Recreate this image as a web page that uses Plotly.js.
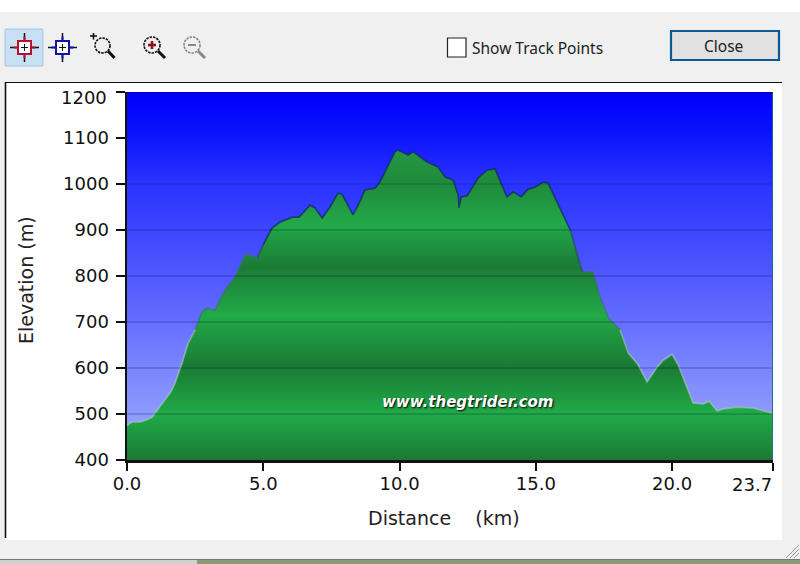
<!DOCTYPE html>
<html>
<head>
<meta charset="utf-8">
<script src="https://cdn.plot.ly/plotly-3.0.0.min.js"></script>
<style>html,body{margin:0;padding:0;background:#f0f0f0;overflow:hidden}</style>
</head>
<body>
<div id="chart" style="width:800px;height:564px"></div>
<script>
const distanceKm = [0.0,0.11,0.22,0.48,0.70,0.92,1.03,1.25,1.47,1.61,1.76,2.02,2.24,2.50,2.75,2.94,3.23,3.45,3.67,3.96,4.33,4.51,4.77,4.99,5.32,5.61,6.06,6.31,6.72,6.90,7.16,7.45,7.74,7.89,8.29,8.48,8.73,9.10,9.28,9.83,9.94,10.31,10.50,11.01,11.41,11.67,11.96,12.15,12.18,12.26,12.48,12.88,13.21,13.50,13.94,14.17,14.46,14.72,14.97,15.27,15.45,15.71,15.89,16.26,16.70,17.10,17.36,17.65,17.80,18.09,18.39,18.75,19.08,19.45,19.67,20.00,20.22,20.55,20.77,21.14,21.36,21.65,21.87,22.39,22.97,23.34,23.67];
const elevationM = [474,480,483,483,487,493,502,520,537,548,567,611,654,683,722,730,726,754,776,798,846,846,839,867,904,917,928,928,954,948,926,950,980,978,933,954,987,991,1004,1070,1074,1063,1070,1048,1037,1015,1009,976,948,972,974,1013,1030,1033,972,983,972,989,993,1004,1002,970,948,900,809,809,754,711,700,683,633,607,570,602,617,630,607,557,524,522,528,507,511,515,513,507,502];
const xTickVals = [0,5,10,15,20,23.7];
const xTickText = ['0.0','5.0','10.0','15.0','20.0',''];
const lastXLabel = '23.7';
const yTickVals = [400,500,600,700,800,900,1000,1100,1200];
const yTickText = ['400','500','600','700','800','900','1000','1100',''];
const topYLabel = '1200';
const gridVals = [500,600,700,800,900,1000];
const xMax = 23.7, yMin = 400, yMax = 1200;

const skyStops = [[0,'#0000fb'],[0.1,'#0a10fd'],[0.25,'#2a33fe'],[0.5,'#5058ff'],[0.75,'#7a85ff'],[1,'#a3aefe']];
const greenStops = [[0,'#2a9c46'],[0.14,'#1f8a3c'],[0.27,'#22a948'],[0.40,'#1b7b36'],[0.55,'#22aa48'],[0.71,'#1a7a35'],[0.855,'#21ab48'],[1,'#1b7a36']];

const L=127,R=773,T=92,B=460;
const px=v=>(v-L)/(R-L), py=v=>(B-v)/(B-T);
function rect(x0,y0,x1,y1,fill,line,lw,layer){return {type:'rect',xref:'paper',yref:'paper',x0:px(x0),x1:px(x1),y0:py(y0),y1:py(y1),fillcolor:fill,line:{color:line||'rgba(0,0,0,0)',width:lw||0},layer:layer||'below'};}
function seg(x0,y0,x1,y1,c,w,dash){return {type:'line',xref:'paper',yref:'paper',x0:px(x0),x1:px(x1),y0:py(y0),y1:py(y1),line:{color:c,width:w,dash:dash||'solid'},layer:'above'};}
function circ(cx,cy,r,c,w,dash){return {type:'circle',xref:'paper',yref:'paper',x0:px(cx-r),x1:px(cx+r),y0:py(cy-r),y1:py(cy+r),fillcolor:'rgba(0,0,0,0)',line:{color:c,width:w,dash:dash||'solid'},layer:'above'};}
function crosshair(cx,cy,c){return [
  seg(cx-14.5,cy,cx+14.5,cy,'#111',1.5),seg(cx,cy-14.5,cx,cy+14.5,'#111',1.5),
  rect(cx-6.5,cy-6.5,cx+6.5,cy+6.5,'#ffffff',c,2,'above'),
  seg(cx-3.5,cy,cx+3.5,cy,'#111',1),seg(cx,cy-3.5,cx,cy+3.5,'#111',1),
  seg(cx-11,cy,cx-6.5,cy,c,2),seg(cx+6.5,cy,cx+11,cy,c,2),seg(cx,cy-11,cx,cy-6.5,c,2),seg(cx,cy+6.5,cx,cy+11,c,2)
];}
const iconDash='2.5px,1px';
const furniture = [
  rect(0,0,800,12,'#ffffff'),
  rect(5,82,782,540,'#ffffff'),
  rect(0,559,800,564,'#cfd2cc'),
  rect(197,560,800,564,'#8b9a78'),
  seg(0,559.5,800,559.5,'#777777',1),
  seg(5.5,82,5.5,538,'#111111',1.6),
  seg(5,82.5,782,82.5,'#111111',1.2),
  rect(5,29,43,66,'#c9dff3','#a3c6e6',1,'above'),
  ...crosshair(24.5,47.5,'#b3112c'),
  ...crosshair(62.5,47.5,'#1414a0'),
  circ(102.5,45.5,7.5,'#111',1.6,iconDash),seg(108,51,114.5,58,'#111',3),
  seg(90,36,97,36,'#111',1.6),seg(93.5,33,93.5,39.5,'#111',1.6),
  circ(152,45,8,'#111',1.6,iconDash),seg(158,51,165,58,'#111',3),
  seg(148,45,156,45,'#8c0f20',2.6),seg(152,41,152,49,'#8c0f20',2.6),
  circ(192,45,8,'#888',1.6,iconDash),seg(198,51,205,58,'#888',3),seg(188,45,196,45,'#888',2),
  rect(447.5,38,466,57,'#ffffff','#222222',1.2,'above'),
  rect(671,31,779,60,'#e1e1e1','#0b5a96',2.2,'above'),
  seg(786,558,799,545,'#999',1),seg(790,558,799,549,'#999',1),seg(794,558,799,553,'#999',1)
];
const gridShapes = gridVals.map(v=>({type:'line',xref:'x',yref:'y',x0:0,x1:xMax,y0:v,y1:v,line:{color:v===1000?'rgba(0,0,50,0.2)':'rgba(0,0,50,0.33)',width:1.2},layer:'above'}));
const edges = [
  {type:'line',xref:'x',yref:'y',x0:xMax,x1:xMax,y0:yMin,y1:yMax,line:{color:'rgba(20,110,130,0.9)',width:2},layer:'above'},
  {type:'line',xref:'x',yref:'y',x0:0,x1:xMax,y0:yMax,y1:yMax,line:{color:'rgba(0,0,130,0.8)',width:1.5},layer:'above'}
];

function band(lo,hi){return elevationM.map((e,i)=>{
  const a=elevationM[i-1]??e,b=elevationM[i+1]??e;
  const inb=v=>v>=lo&&v<hi; return (inb(e)||inb(a)||inb(b))?e:null;});}
const outline=(lo,hi,c)=>({x:distanceKm,y:band(lo,hi),mode:'lines',line:{color:c,width:1.7},hoverinfo:'skip',showlegend:false});

const nb='\u00A0';
const fam='"DejaVu Sans",Verdana,sans-serif';
const tickFont={family:fam,size:18,color:'#111'};
const titleFont={family:fam,size:19,color:'#222'};
const traces=[
  {x:[0,xMax],y:[yMax,yMax],mode:'lines',line:{width:0},fill:'tozeroy',fillcolor:'#5058ff',
   fillgradient:{type:'vertical',start:yMax,stop:yMin,colorscale:skyStops},hoverinfo:'skip',showlegend:false},
  {x:distanceKm,y:elevationM,mode:'lines',line:{width:0},fill:'tozeroy',fillcolor:'#22a948',
   fillgradient:{type:'vertical',start:1100,stop:yMin,colorscale:greenStops},showlegend:false},
  outline(860,2000,'rgba(15,45,90,0.72)'),
  outline(680,860,'rgba(60,110,120,0.6)'),
  outline(0,680,'rgba(170,205,185,0.6)')
];
const layout={
  width:800,height:564,autosize:false,
  margin:{l:L,r:800-R,t:T,b:564-B,pad:0},
  paper_bgcolor:'#f0f0f0',plot_bgcolor:'rgba(0,0,0,0)',showlegend:false,
  xaxis:{range:[0,xMax],tickmode:'array',tickvals:xTickVals,ticktext:xTickText,
    ticks:'outside',ticklen:8,tickwidth:2,tickcolor:'#111',showline:true,linecolor:'#111',linewidth:2.5,
    showgrid:false,zeroline:false,tickfont:tickFont,ticklabelstandoff:-2},
  yaxis:{range:[yMin,yMax],tickmode:'array',tickvals:yTickVals,ticktext:yTickText,
    ticks:'outside',ticklen:9,tickwidth:2,tickcolor:'#111',showline:true,linecolor:'#111',linewidth:2.5,
    showgrid:false,zeroline:false,tickfont:tickFont,ticklabelstandoff:3},
  shapes:[...furniture,...gridShapes,...edges],
  annotations:[
    {xref:'paper',yref:'paper',x:px(443.5),y:py(518),xanchor:'center',yanchor:'middle',text:'Distance'+nb+nb+nb+nb+'(km)',showarrow:false,font:titleFont},
    {xref:'paper',yref:'paper',x:px(26),y:py(280),xanchor:'center',yanchor:'middle',textangle:-90,text:'Elevation'+nb+'(m)',showarrow:false,font:titleFont},
    {xref:'x',yref:'y',x:12.5,y:526,text:'www.thegtrider.com',showarrow:false,
     font:{family:fam,size:15,color:'#ffffff',weight:'bold',style:'italic',shadow:'1px 1px 2px #000'}},
    {xref:'paper',yref:'paper',x:px(773),y:py(484),xanchor:'right',yanchor:'middle',text:lastXLabel,showarrow:false,borderpad:0,
     font:tickFont},
    {xref:'paper',yref:'paper',x:px(108),y:py(98),xanchor:'right',yanchor:'middle',text:topYLabel,showarrow:false,borderpad:0,
     font:tickFont},
    {xref:'paper',yref:'paper',x:px(470),y:py(48),xanchor:'left',yanchor:'middle',text:'Show Track Points',showarrow:false,
     font:{family:'"Noto Sans",sans-serif',size:15.5,color:'#222'}},
    {xref:'paper',yref:'paper',x:px(723),y:py(46.5),xanchor:'center',yanchor:'middle',text:'Close',showarrow:false,
     font:{family:'"Noto Sans",sans-serif',size:15.5,color:'#222'}}
  ]
};
Plotly.newPlot('chart',traces,layout,{displayModeBar:false,staticPlot:true});
</script>
</body>
</html>
